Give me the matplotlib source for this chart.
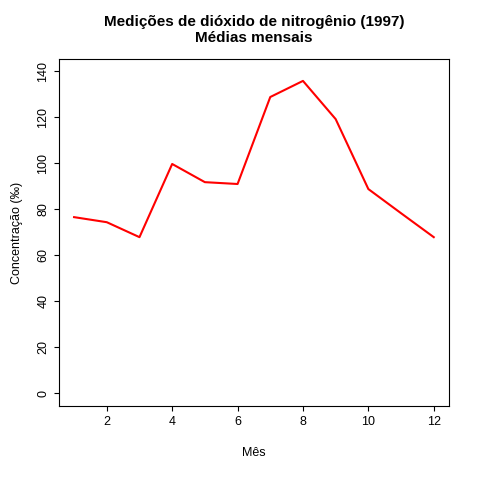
import matplotlib
matplotlib.use("Agg")
import matplotlib.pyplot as plt

plt.rcParams['font.family'] = ['Liberation Sans', 'DejaVu Sans']

meses = [1, 2, 3, 4, 5, 6, 7, 8, 9, 10, 11, 12]
no2 = [76.5, 74.3, 67.8, 99.6, 91.7, 90.9, 128.7, 135.7, 119.1, 88.7, 78.2, 67.8]

fig = plt.figure(figsize=(4.8, 4.8), dpi=100)
ax = fig.add_axes([0.123, 0.154, 0.812, 0.723])
ax.plot(meses, no2, color='red', linewidth=1.5)
ax.set_xlim(0.54, 12.46)
ax.set_ylim(-5.6, 145.2)
ax.set_xticks([2, 4, 6, 8, 10, 12])
ax.set_yticks(range(0, 141, 20))
ax.tick_params(axis='y', labelrotation=90, labelsize=9)
ax.tick_params(axis='x', labelsize=9)
for lab in ax.get_yticklabels():
    lab.set_verticalalignment('center')
ax.set_xlabel('Mês', fontsize=9, labelpad=14)
ax.set_ylabel('Concentração (‰)', fontsize=9, labelpad=10)
ax.set_title('Medições de dióxido de nitrogênio (1997)\nMédias mensais',
             fontsize=11, fontweight='bold', pad=12)
fig.savefig('out.png')
